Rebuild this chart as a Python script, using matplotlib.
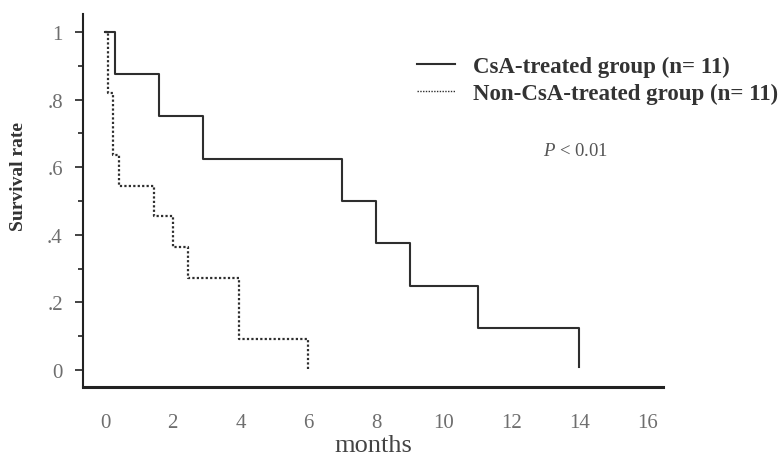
import matplotlib
matplotlib.use('Agg')
import matplotlib.pyplot as plt

# Kaplan-Meier steps
csa_months = [0, 0.3, 1.6, 2.9, 7.0, 8.0, 9.0, 11.0, 14.0]
csa_surv = [1.0, 0.875, 0.75, 0.625, 0.5, 0.375, 0.25, 0.125, 0.01]

non_months = [0, 0.1, 0.25, 0.4, 1.45, 2.0, 2.45, 3.95, 6.0]
non_surv = [1.0, 0.818, 0.636, 0.545, 0.455, 0.364, 0.273, 0.091, 0.0]

x_ticks = [0, 2, 4, 6, 8, 10, 12, 14, 16]
y_ticks = [0, 0.2, 0.4, 0.6, 0.8, 1.0]
y_labels = ['0', '.2', '.4', '.6', '.8', '1']

plt.rcParams['font.family'] = 'Liberation Serif'
plt.rcParams['mathtext.fontset'] = 'custom'
plt.rcParams['mathtext.it'] = 'Liberation Serif:italic'
plt.rcParams['mathtext.rm'] = 'Liberation Serif'

line_c = '#2e2e2e'
tick_c = '#6e6e6e'

fig = plt.figure(figsize=(7.81, 4.56), dpi=100)
ax = fig.add_axes([83/781, 1 - 388/456, 580/781, 373/456])

ax.step(csa_months, csa_surv, where='post', color=line_c, lw=1.5,
        label='CsA-treated group (n= 11)')
ax.step(non_months, non_surv, where='post', color=line_c, lw=1.6,
        linestyle=(0, (1, 1)), label='Non-CsA-treated group (n= 11)')

ax.set_xlim(-0.65, 16.47)
ax.set_ylim(-0.05, 1.053)

ax.spines['top'].set_visible(False)
ax.spines['right'].set_visible(False)
ax.spines['left'].set_linewidth(1.5)
ax.spines['bottom'].set_linewidth(2.2)
ax.spines['left'].set_color('#222222')
ax.spines['bottom'].set_color('#222222')

ax.set_xticks(x_ticks)
ax.set_xticklabels([str(t) for t in x_ticks])
ax.set_yticks(y_ticks)
ax.set_yticklabels(y_labels)
ax.set_yticks([0.1, 0.3, 0.5, 0.7, 0.9], minor=True)

ax.tick_params(axis='x', length=0, pad=19, labelsize=15, labelcolor=tick_c)
ax.tick_params(axis='y', which='major', length=5.5, width=1.2, pad=9,
               labelsize=15, labelcolor=tick_c, color='#222222')
ax.tick_params(axis='y', which='minor', length=3.5, width=1.2, color='#222222')

leg = ax.legend(loc='upper left', bbox_to_anchor=(417/781, 1 - 57/456),
                bbox_transform=fig.transFigure, frameon=False, fontsize=16.5,
                borderpad=0, borderaxespad=0, handlelength=1.65,
                handletextpad=0.8, labelspacing=0.23)
for t in leg.get_texts():
    t.set_fontweight('bold')
    t.set_color('#333333')
leg.get_lines()[1].set_linewidth(1.0)

fig.text(543/781, 1 - 152/456, r'$\mathit{P}$ < 0.01', fontsize=13.5,
         color='#555555', ha='left', va='center')

fig.text(19/781, 1 - 177/456, 'Survival rate', rotation=90, fontsize=14,
         fontweight='bold', color='#333333', ha='center', va='center')
fig.text(373/781, 1 - 446/456, 'months', fontsize=19, color='#444444',
         ha='center', va='center')

fig.savefig('out.png', dpi=100)
